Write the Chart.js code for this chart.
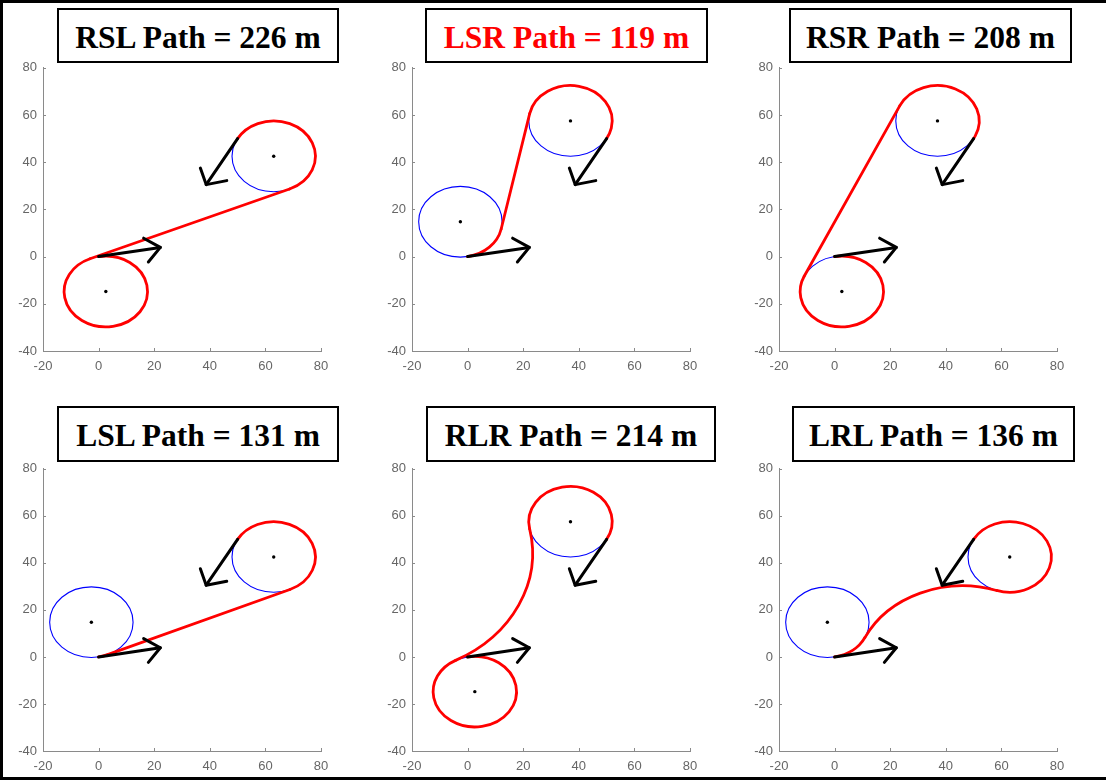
<!DOCTYPE html>
<html>
<head>
<meta charset="utf-8">
<script src="https://cdn.jsdelivr.net/npm/chart.js@4.4.1/dist/chart.umd.min.js"></script>
<style>
  html, body { margin: 0; padding: 0; background: #fff; }
  body { width: 1106px; height: 781px; position: relative; overflow: hidden; }
  #frame {
    position: absolute; left: 0; top: 0; width: 1130px; height: 780px;
    box-sizing: border-box;
    border-left: 3px solid #000; border-top: 3px solid #000; border-bottom: 3px solid #000;
  }
  .title {
    position: absolute; box-sizing: border-box; border: 2px solid #000; background: #fff;
    display: flex; align-items: center; justify-content: center;
    font-family: "Liberation Serif", "Times New Roman", serif; font-weight: bold; font-size: 31.5px;
    white-space: nowrap; padding-top: 4px;
  }
  canvas { position: absolute; }
</style>
</head>
<body>
<div id="frame"></div>
<script>
// Axis ticks shared by every panel
const xTickValues = [-20, 0, 20, 40, 60, 80];
const yTickValues = [-40, -20, 0, 20, 40, 60, 80];

// Manoeuvre names and total path lengths (m)
const pathNames = ['RSL', 'LSR', 'RSR', 'LSL', 'RLR', 'LRL'];
const pathLengths = [226, 119, 208, 131, 214, 136];

// Turning circles (centre x, centre y, radius) at the start and goal poses
const startRightCircle = [2.60, -14.77, 15];
const startLeftCircle = [-2.60, 14.77, 15];
const goalRightCircle = [37.01, 57.50, 15];
const goalLeftCircle = [62.99, 42.50, 15];

// Heading arrows: shaft [from, to] and head polyline [barb, tip, barb]
const startArrowShaft = [[0, 0], [22.2, 3.9]];
const startArrowHead = [[16.2, 7.8], [22.2, 3.9], [17.9, -2.3]];
const goalArrowShaft = [[50, 50], [38.7, 30.5]];
const goalArrowHead = [[36.6, 37.5], [38.7, 30.5], [46.1, 32.2]];

// Path arcs: [centre x, centre y, radius, from angle deg, to angle deg]
// (to < from turns clockwise, to > from turns anticlockwise)
const rslArcs = [[2.60, -14.77, 15, 100, -247.64], [62.99, 42.50, 15, -67.64, 150]];
const lsrArcs = [[-2.60, 14.77, 15, -80, -11.85], [37.01, 57.50, 15, 168.15, -30]];
const rsrArcs = [[2.60, -14.77, 15, 100, -205.46], [37.01, 57.50, 15, 154.54, -30]];
const lslArcs = [[-2.60, 14.77, 15, -80, -67.09], [62.99, 42.50, 15, -67.09, 150]];
const rlrArcs = [[2.60, -14.77, 15, 100, -242.52], [-28.04, 44.14, 51.41, -62.52, 11.60], [37.01, 57.50, 15, 191.60, -30]];
const lrlArcs = [[-2.60, 14.77, 15, -80, -25.83], [46.00, -8.76, 39.00, 154.17, 71.66], [62.99, 42.50, 15, -108.34, 150]];

// Straight tangent legs: [from, to]
const rslStraight = [[-3.10, -0.90], [68.70, 28.63]];
const lsrStraight = [[12.08, 11.69], [22.33, 60.58]];
const rsrStraight = [[-10.94, -8.32], [23.47, 63.95]];
const lslStraight = [[3.24, 0.96], [68.83, 28.68]];
const rlrStraight = [];
const lrlStraight = [];

const panels = [
  { arcs: rslArcs, straight: rslStraight, circles: [startRightCircle, goalLeftCircle] },
  { arcs: lsrArcs, straight: lsrStraight, circles: [startLeftCircle, goalRightCircle] },
  { arcs: rsrArcs, straight: rsrStraight, circles: [startRightCircle, goalRightCircle] },
  { arcs: lslArcs, straight: lslStraight, circles: [startLeftCircle, goalLeftCircle] },
  { arcs: rlrArcs, straight: rlrStraight, circles: [startRightCircle, goalRightCircle] },
  { arcs: lrlArcs, straight: lrlStraight, circles: [startLeftCircle, goalLeftCircle] }
];

// Page layout: plot area [left, top, width, height], title box [left, top, width, height]
const layoutSpec = [
  { plot: [43, 64, 278, 287], box: [57, 8, 282, 55], color: '#000' },
  { plot: [412, 64, 278, 287], box: [425, 8, 283, 55], color: '#ff0000' },
  { plot: [779, 64, 278, 287], box: [789, 8, 283, 55], color: '#000' },
  { plot: [43, 465, 278, 286], box: [57, 406, 282, 56], color: '#000' },
  { plot: [412, 465, 278, 286], box: [426, 406, 290, 56], color: '#000' },
  { plot: [779, 465, 278, 286], box: [792, 406, 283, 56], color: '#000' }
];

const AXIS_COLOR = '#8a8a8a';
const LABEL_COLOR = '#666666';
const toXY = p => ({ x: p[0], y: p[1] });

// Turning circles (blue) and the curved legs (red), drawn through the chart scales
const dubinsPlugin = {
  id: 'dubinsArcs',
  beforeDatasetsDraw(chart, args, opts) {
    const { ctx, scales: { x, y } } = chart;
    const panel = opts.panel;
    const ell = (c) => ({
      px: x.getPixelForValue(c[0]), py: y.getPixelForValue(c[1]),
      rx: Math.abs(x.getPixelForValue(c[0] + c[2]) - x.getPixelForValue(c[0])),
      ry: Math.abs(y.getPixelForValue(c[1] + c[2]) - y.getPixelForValue(c[1]))
    });
    ctx.save();
    ctx.lineCap = 'round';
    ctx.strokeStyle = '#0000ff';
    ctx.lineWidth = 1.1;
    panel.circles.forEach(c => {
      const e = ell(c);
      ctx.beginPath();
      ctx.ellipse(e.px, e.py, e.rx, e.ry, 0, 0, Math.PI * 2);
      ctx.stroke();
    });
    ctx.strokeStyle = '#ff0000';
    ctx.lineWidth = 2.8;
    panel.arcs.forEach(a => {
      const e = ell(a);
      const t0 = a[3] * Math.PI / 180, t1 = a[4] * Math.PI / 180;
      ctx.beginPath();
      ctx.ellipse(e.px, e.py, e.rx, e.ry, 0, -t0, -t1, t1 > t0);
      ctx.stroke();
    });
    ctx.restore();
  },
  afterDraw(chart) {
    // inward tick marks on the two visible axes
    const { ctx, chartArea, scales: { x, y } } = chart;
    ctx.save();
    ctx.strokeStyle = AXIS_COLOR;
    ctx.lineWidth = 1;
    ctx.beginPath();
    xTickValues.forEach(v => {
      const px = Math.round(x.getPixelForValue(v)) + 0.5;
      ctx.moveTo(px, chartArea.bottom);
      ctx.lineTo(px, chartArea.bottom - 3);
    });
    yTickValues.forEach(v => {
      const py = Math.round(y.getPixelForValue(v)) + 0.5;
      ctx.moveTo(chartArea.left, py);
      ctx.lineTo(chartArea.left + 3, py);
    });
    ctx.stroke();
    ctx.restore();
  }
};

function lineSet(points, color, width, order) {
  return {
    data: points.map(toXY), showLine: true, borderColor: color, borderWidth: width,
    pointRadius: 0, borderCapStyle: 'round', borderJoinStyle: 'round', order: order
  };
}

function makePanel(i) {
  const L = layoutSpec[i], P = panels[i];

  const box = document.createElement('div');
  box.className = 'title';
  box.style.left = L.box[0] + 'px'; box.style.top = L.box[1] + 'px';
  box.style.width = L.box[2] + 'px'; box.style.height = L.box[3] + 'px';
  box.style.color = L.color;
  box.textContent = pathNames[i] + ' Path = ' + pathLengths[i] + ' m';
  document.body.appendChild(box);

  const padL = 42, padT = 10, padR = 22, padB = 32;
  const w = L.plot[2] + padL + padR, h = L.plot[3] + padT + padB;
  const canvas = document.createElement('canvas');
  canvas.width = w; canvas.height = h;
  canvas.style.width = w + 'px'; canvas.style.height = h + 'px';
  canvas.style.left = (L.plot[0] - padL) + 'px';
  canvas.style.top = (L.plot[1] - padT) + 'px';
  document.body.appendChild(canvas);

  const datasets = [];
  datasets.push(lineSet(startArrowShaft, '#000', 3, 0));
  datasets.push(lineSet(startArrowHead, '#000', 3, 0));
  datasets.push(lineSet(goalArrowShaft, '#000', 3, 0));
  datasets.push(lineSet(goalArrowHead, '#000', 3, 0));
  datasets.push({
    data: P.circles.map(toXY), showLine: false, pointRadius: 1.7, pointBorderWidth: 0,
    pointBackgroundColor: '#000', order: 0
  });
  if (P.straight.length) datasets.push(lineSet(P.straight, '#ff0000', 2.8, 2));

  const tickFont = { family: '"Liberation Sans", Arial, sans-serif', size: 13 };

  new Chart(canvas, {
    type: 'scatter',
    data: { datasets },
    options: {
      responsive: false, animation: false, devicePixelRatio: 1, events: [],
      layout: { padding: { left: 0, top: padT, right: padR, bottom: 0 }, autoPadding: false },
      plugins: { legend: { display: false }, tooltip: { enabled: false }, dubinsArcs: { panel: P } },
      scales: {
        x: {
          type: 'linear', min: xTickValues[0], max: xTickValues[xTickValues.length - 1],
          afterFit: s => { s.height = padB; },
          afterBuildTicks: s => { s.ticks = xTickValues.map(v => ({ value: v })); },
          ticks: { padding: 8, color: LABEL_COLOR, font: tickFont, maxRotation: 0, autoSkip: false },
          grid: { display: false, drawTicks: false },
          border: { display: true, color: AXIS_COLOR, width: 1 }
        },
        y: {
          type: 'linear', min: yTickValues[0], max: yTickValues[yTickValues.length - 1],
          afterFit: s => { s.width = padL; },
          afterBuildTicks: s => { s.ticks = yTickValues.map(v => ({ value: v })); },
          ticks: { padding: 6, color: LABEL_COLOR, font: tickFont, autoSkip: false },
          grid: { display: false, drawTicks: false },
          border: { display: true, color: AXIS_COLOR, width: 1 }
        }
      }
    },
    plugins: [dubinsPlugin]
  });
}

for (let i = 0; i < panels.length; i++) makePanel(i);
</script>
</body>
</html>
